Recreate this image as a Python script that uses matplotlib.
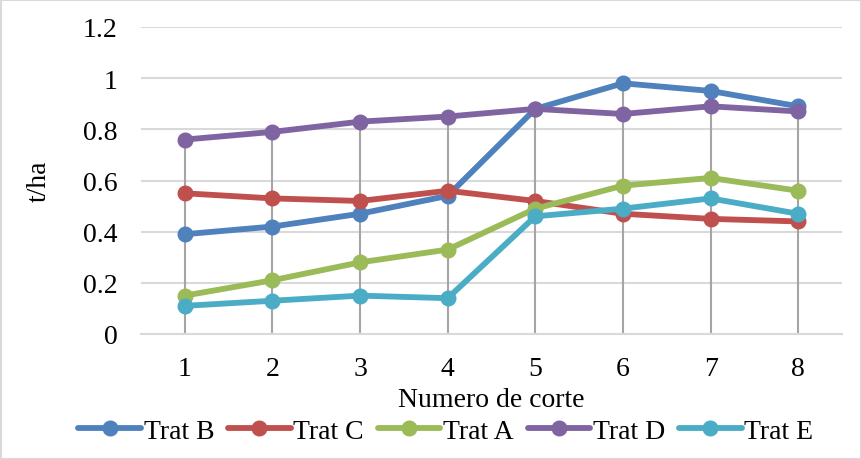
import matplotlib.pyplot as plt
from matplotlib.patches import Rectangle

plt.rcParams['font.family'] = ['Liberation Serif', 'DejaVu Serif']

cortes = [1, 2, 3, 4, 5, 6, 7, 8]
trat_b = [0.39, 0.42, 0.47, 0.54, 0.88, 0.98, 0.95, 0.89]
trat_c = [0.55, 0.53, 0.52, 0.56, 0.52, 0.47, 0.45, 0.44]
trat_a = [0.15, 0.21, 0.28, 0.33, 0.49, 0.58, 0.61, 0.56]
trat_d = [0.76, 0.79, 0.83, 0.85, 0.88, 0.86, 0.89, 0.87]
trat_e = [0.11, 0.13, 0.15, 0.14, 0.46, 0.49, 0.53, 0.47]

series = [
    ("Trat B", trat_b, "#4F81BD"),
    ("Trat C", trat_c, "#C0504D"),
    ("Trat A", trat_a, "#9BBB59"),
    ("Trat D", trat_d, "#8064A2"),
    ("Trat E", trat_e, "#4BACC6"),
]

fig = plt.figure(figsize=(8.61, 4.6), dpi=100)
ax = fig.add_axes([141 / 861, 1 - 335 / 460, (842 - 141) / 861, (335 - 28) / 460])

# drop lines from the highest point down to zero
tops = [max(vals) for vals in zip(trat_b, trat_c, trat_a, trat_d, trat_e)]
ax.vlines(cortes, 0, tops, color="#A5A5A5", linewidth=1.5, zorder=2)

for name, vals, col in series:
    ax.plot(cortes, vals, color=col, linewidth=4.2, marker="o", markersize=10.5,
            label=name, zorder=3, solid_capstyle="round")

ax.set_xlim(0.5, 8.5)
ax.set_ylim(0, 1.2)
ax.set_yticks([0, 0.2, 0.4, 0.6, 0.8, 1.0, 1.2])
ax.set_yticklabels(["0", "0.2", "0.4", "0.6", "0.8", "1", "1.2"])
ax.set_xticks(cortes)
ax.yaxis.grid(True, color="#D9D9D9", linewidth=1.5)
ax.set_axisbelow(True)
for s in ax.spines.values():
    s.set_visible(False)
ax.spines['bottom'].set_visible(True)
ax.spines['bottom'].set_color("#D9D9D9")
ax.spines['bottom'].set_linewidth(1.5)
ax.tick_params(length=0, labelsize=20)
ax.tick_params(axis='y', pad=17)
ax.tick_params(axis='x', pad=16)

ax.set_xlabel("Numero de corte", fontsize=20, labelpad=4)
ax.set_ylabel("t/ha", fontsize=20, labelpad=22)

fig.legend(loc="lower center", bbox_to_anchor=(0.518, -0.01), ncol=5, frameon=False,
           fontsize=20, handlelength=2.25, columnspacing=0.5, handletextpad=0.1,
           borderpad=0.2)

fig.patches.append(Rectangle((0.5 / 861, 0.5 / 460), 1 - 1 / 861, 1 - 1 / 460,
                             transform=fig.transFigure, fill=False,
                             edgecolor="#D9D9D9", linewidth=1.5))

fig.savefig("out.png", dpi=100)
